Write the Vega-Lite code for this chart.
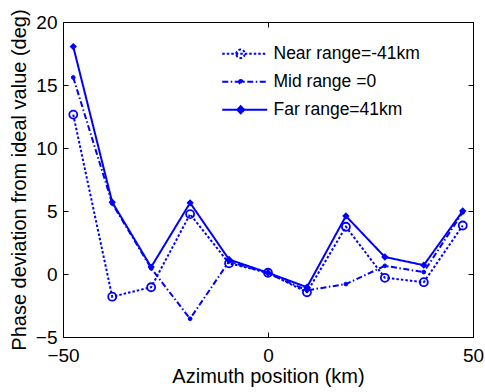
{
  "$schema": "https://vega.github.io/schema/vega-lite/v6.json",
  "width": 410,
  "height": 315,
  "autosize": "none",
  "padding": {"left": 63, "top": 22, "right": 12, "bottom": 55},
  "background": "white",
  "config": {
    "font": "Liberation Sans",
    "view": {"stroke": "#000000", "strokeWidth": 1},
    "axis": {
      "grid": false,
      "domain": false,
      "tickColor": "#000000",
      "tickSize": -5,
      "labelColor": "#000000",
      "labelFont": "Liberation Sans",
      "labelFontSize": 19,
      "titleColor": "#000000",
      "titleFont": "Liberation Sans",
      "titleFontSize": 20,
      "titleFontWeight": "normal"
    }
  },
  "data": {
    "values": [
      {"series": "Near range=-41km", "azimuth": -47.5, "deviation": 12.65},
      {"series": "Near range=-41km", "azimuth": -38, "deviation": -1.8},
      {"series": "Near range=-41km", "azimuth": -28.5, "deviation": -1.05},
      {"series": "Near range=-41km", "azimuth": -19, "deviation": 4.75},
      {"series": "Near range=-41km", "azimuth": -9.5, "deviation": 0.85},
      {"series": "Near range=-41km", "azimuth": 0, "deviation": 0.1},
      {"series": "Near range=-41km", "azimuth": 9.5, "deviation": -1.45},
      {"series": "Near range=-41km", "azimuth": 19, "deviation": 3.75},
      {"series": "Near range=-41km", "azimuth": 28.5, "deviation": -0.3},
      {"series": "Near range=-41km", "azimuth": 38, "deviation": -0.65},
      {"series": "Near range=-41km", "azimuth": 47.5, "deviation": 3.85},
      {"series": "Mid range =0", "azimuth": -47.5, "deviation": 15.6},
      {"series": "Mid range =0", "azimuth": -38, "deviation": 5.6},
      {"series": "Mid range =0", "azimuth": -28.5, "deviation": 0.45},
      {"series": "Mid range =0", "azimuth": -19, "deviation": -3.55},
      {"series": "Mid range =0", "azimuth": -9.5, "deviation": 1.0},
      {"series": "Mid range =0", "azimuth": 0, "deviation": 0.05},
      {"series": "Mid range =0", "azimuth": 9.5, "deviation": -1.3},
      {"series": "Mid range =0", "azimuth": 19, "deviation": -0.8},
      {"series": "Mid range =0", "azimuth": 28.5, "deviation": 0.65},
      {"series": "Mid range =0", "azimuth": 38, "deviation": 0.15},
      {"series": "Mid range =0", "azimuth": 47.5, "deviation": 4.9},
      {"series": "Far range=41km", "azimuth": -47.5, "deviation": 18.05},
      {"series": "Far range=41km", "azimuth": -38, "deviation": 5.7},
      {"series": "Far range=41km", "azimuth": -28.5, "deviation": 0.55},
      {"series": "Far range=41km", "azimuth": -19, "deviation": 5.65},
      {"series": "Far range=41km", "azimuth": -9.5, "deviation": 1.15},
      {"series": "Far range=41km", "azimuth": 0, "deviation": 0.1},
      {"series": "Far range=41km", "azimuth": 9.5, "deviation": -1.05},
      {"series": "Far range=41km", "azimuth": 19, "deviation": 4.6},
      {"series": "Far range=41km", "azimuth": 28.5, "deviation": 1.35},
      {"series": "Far range=41km", "azimuth": 38, "deviation": 0.7},
      {"series": "Far range=41km", "azimuth": 47.5, "deviation": 5.0}
    ]
  },
  "resolve": {"axis": {"x": "independent", "y": "independent"}},
  "layer": [
    {
      "mark": {"type": "line", "strokeWidth": 2},
      "encoding": {
        "x": {
          "field": "azimuth", "type": "quantitative",
          "scale": {"domain": [-50, 50], "nice": false, "zero": false},
          "axis": {"values": [-50, 0, 50], "title": "Azimuth position (km)", "labelPadding": 14, "titlePadding": 1, "labelFlush": false}
        },
        "y": {
          "field": "deviation", "type": "quantitative",
          "scale": {"domain": [-5, 20], "nice": false, "zero": false},
          "axis": {"values": [-5, 0, 5, 10, 15, 20], "title": "Phase deviation from ideal value (deg)", "labelPadding": 11, "titlePadding": 6, "labelFlush": false}
        },
        "color": {
          "field": "series", "type": "nominal",
          "scale": {"domain": ["Near range=-41km", "Mid range =0", "Far range=41km"], "range": ["#0000ff", "#0000ff", "#0000ff"]},
          "legend": {
            "title": null,
            "orient": "none",
            "legendX": 148,
            "legendY": 23,
            "padding": 0,
            "symbolSize": 100,
            "symbolOffset": 25,
            "labelOffset": 20,
            "rowPadding": 9,
            "labelFont": "Liberation Sans",
            "labelFontSize": 17.5,
            "labelColor": "#000000",
            "labelLimit": 300,
            "encode": {
              "symbols": {
                "update": {
                  "shape": {"signal": "datum.value === 'Near range=-41km' ? 'M-4.5,0L4.5,0M-1.7,0A0.85,0.85 0 1,1 0,0A0.85,0.85 0 1,1 -1.7,0' : datum.value === 'Mid range =0' ? 'M-4.5,0L4.5,0M-1.15,0A0.35,0.35 0 1,1 -0.45,0A0.35,0.35 0 1,1 -1.15,0' : 'M-4.5,0L4.5,0M-0.8,-0.7L-0.1,0L-0.8,0.7L-1.5,0Z'"},
                  "strokeDash": {"signal": "datum.value === 'Near range=-41km' ? [2.5, 2] : datum.value === 'Mid range =0' ? [6, 2.5, 1.5, 2.5] : [1, 0]"},
                  "fill": {"signal": "datum.value === 'Near range=-41km' ? 'white' : '#0000ff'"},
                  "stroke": {"value": "#0000ff"},
                  "strokeWidth": {"value": 2},
                  "opacity": {"value": 1}
                }
              }
            }
          }
        },
        "strokeDash": {
          "field": "series", "type": "nominal",
          "scale": {"domain": ["Near range=-41km", "Mid range =0", "Far range=41km"], "range": [[2.5, 2], [6, 2.5, 1.5, 2.5], [1, 0]]},
          "legend": null
        }
      }
    },
    {
      "transform": [{"filter": {"field": "series", "equal": "Near range=-41km"}}],
      "mark": {"type": "point", "shape": "circle", "size": 64, "stroke": "#0000ff", "fill": "transparent", "strokeWidth": 1.8, "opacity": 1},
      "encoding": {
        "x": {"field": "azimuth", "type": "quantitative", "axis": null},
        "y": {"field": "deviation", "type": "quantitative", "axis": null}
      }
    },
    {
      "transform": [{"filter": {"field": "series", "equal": "Mid range =0"}}],
      "mark": {"type": "point", "shape": "circle", "size": 14, "stroke": "#0000ff", "fill": "#0000ff", "filled": true, "strokeWidth": 1, "opacity": 1},
      "encoding": {
        "x": {"field": "azimuth", "type": "quantitative", "axis": null},
        "y": {"field": "deviation", "type": "quantitative", "axis": null}
      }
    },
    {
      "transform": [{"filter": {"field": "series", "equal": "Far range=41km"}}],
      "mark": {"type": "point", "shape": "diamond", "size": 32, "stroke": "#0000ff", "fill": "#0000ff", "filled": true, "strokeWidth": 1.2, "opacity": 1},
      "encoding": {
        "x": {"field": "azimuth", "type": "quantitative", "axis": null},
        "y": {"field": "deviation", "type": "quantitative", "axis": null}
      }
    },
    {
      "mark": {"type": "point", "opacity": 0},
      "encoding": {
        "x": {"field": "azimuth", "type": "quantitative", "axis": {"orient": "top", "values": [-50, 0, 50], "labels": false, "title": null}},
        "y": {"field": "deviation", "type": "quantitative", "axis": {"orient": "right", "values": [-5, 0, 5, 10, 15, 20], "labels": false, "title": null}}
      }
    }
  ]
}
